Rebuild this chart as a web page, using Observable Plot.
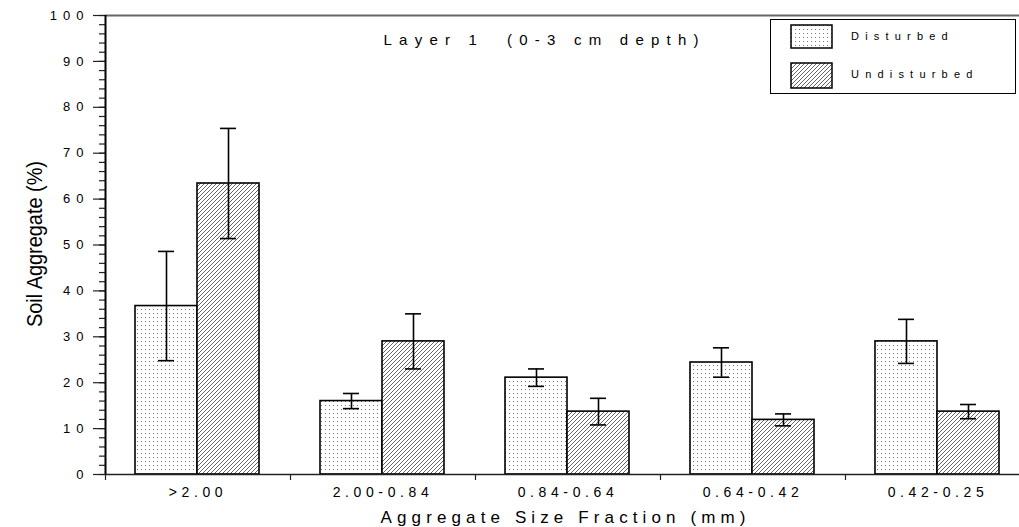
<!DOCTYPE html>
<html>
<head>
<meta charset="utf-8">
<script src="https://cdn.jsdelivr.net/npm/d3@7"></script>
<script src="https://cdn.jsdelivr.net/npm/@observablehq/plot@0.6"></script>
<style>
  html, body { margin: 0; padding: 0; background: #fff; overflow: hidden; }
  #wrap { position: relative; width: 1019px; height: 527px; overflow: hidden; }
  #chart svg { max-width: none !important; width: 1030px !important; height: 527px !important; font-family: "Liberation Sans", Arial, sans-serif; }
  #legend { position: absolute; left: 770px; top: 19px; width: 246px; height: 75px; border: 1.3px solid #000; background: #fff; box-sizing: border-box; font-family: "Liberation Sans", Arial, sans-serif; font-size: 11px; letter-spacing: 6.2px; }
  #legend .item { position: absolute; left: 19px; height: 26px; }
  #legend .item svg { position: absolute; left: 0; top: 0; }
  #legend .item span { position: absolute; left: 61px; top: 6px; white-space: nowrap; }
</style>
</head>
<body>
<div id="wrap">
  <div id="chart"></div>
  <div id="legend"></div>
</div>
<script>
// ---- data ----
const categories = [">2.00", "2.00-0.84", "0.84-0.64", "0.64-0.42", "0.42-0.25"];
const series = ["Disturbed", "Undisturbed"];
const disturbed = [36.7, 16.0, 21.1, 24.4, 29.0];
const disturbedErr = [11.9, 1.65, 1.9, 3.2, 4.8];
const undisturbed = [63.4, 29.0, 13.7, 11.9, 13.7];
const undisturbedErr = [12.0, 6.0, 2.9, 1.3, 1.55];
const yMajorTicks = [0, 10, 20, 30, 40, 50, 60, 70, 80, 90, 100];
const yMinorTicks = d3.range(0, 101, 2);
const title = "Layer 1\u00a0\u00a0(0-3 cm depth)";
const xTitle = "Aggregate Size Fraction (mm)";
const yTitle = "Soil Aggregate (%)";

const dData = categories.map((c, i) => ({cat: c, v: disturbed[i], lo: disturbed[i] - disturbedErr[i], hi: disturbed[i] + disturbedErr[i]}));
const uData = categories.map((c, i) => ({cat: c, v: undisturbed[i], lo: undisturbed[i] - undisturbedErr[i], hi: undisturbed[i] + undisturbedErr[i]}));

const chart = Plot.plot({
  width: 1030,
  height: 527,
  marginLeft: 105,
  marginRight: 0,
  marginTop: 15,
  marginBottom: 53,
  style: {fontFamily: "Liberation Sans, Arial, sans-serif", overflow: "visible", maxWidth: "none"},
  x: {domain: categories, padding: 0, label: null},
  y: {domain: [0, 100], label: null},
  marks: [
    Plot.ruleY([100], {stroke: "#666", strokeWidth: 2}),
    Plot.rectY(dData, {x: "cat", y: "v", fill: "url(#dotsPat)", stroke: "#000", strokeWidth: 1.6, insetLeft: 30, insetRight: 93}),
    Plot.rectY(uData, {x: "cat", y: "v", fill: "url(#hatchPat)", stroke: "#000", strokeWidth: 1.6, insetLeft: 92, insetRight: 31}),
    Plot.ruleX(dData, {x: "cat", y1: "lo", y2: "hi", stroke: "#000", strokeWidth: 1.6, dx: -31.5}),
    Plot.tickY(dData, {x: "cat", y: "lo", stroke: "#000", strokeWidth: 1.6, insetLeft: 53, insetRight: 116}),
    Plot.tickY(dData, {x: "cat", y: "hi", stroke: "#000", strokeWidth: 1.6, insetLeft: 53, insetRight: 116}),
    Plot.ruleX(uData, {x: "cat", y1: "lo", y2: "hi", stroke: "#000", strokeWidth: 1.6, dx: 30.5}),
    Plot.tickY(uData, {x: "cat", y: "lo", stroke: "#000", strokeWidth: 1.6, insetLeft: 115, insetRight: 54}),
    Plot.tickY(uData, {x: "cat", y: "hi", stroke: "#000", strokeWidth: 1.6, insetLeft: 115, insetRight: 54}),
    Plot.ruleY([0], {stroke: "#222", strokeWidth: 1.5}),
    Plot.axisY(yMinorTicks, {tickSize: 6, text: null, stroke: "#222", strokeWidth: 1.2}),
    Plot.axisY(yMajorTicks, {tickSize: 12, tickPadding: 4, stroke: "#222", strokeWidth: 1.2, fontSize: 13, fill: "#000", label: null}),
    Plot.ruleX([categories[0]], {dx: -92.5, stroke: "#000", strokeWidth: 2}),
    Plot.axisX({tickSize: 6, text: null, dx: -92.5, stroke: "#222", strokeWidth: 1.2, label: null}),
    Plot.axisX({tickSize: 0, tickPadding: 13, fontSize: 14, fill: "#000", label: null}),
    Plot.text([xTitle], {frameAnchor: "bottom", lineAnchor: "middle", dy: 43, dx: -5, fontSize: 17, fill: "#000"}),
    Plot.text([title], {frameAnchor: "top", lineAnchor: "middle", dy: 25, dx: -27, fontSize: 15, fill: "#000"}),
    Plot.text([yTitle], {frameAnchor: "left", textAnchor: "middle", lineAnchor: "middle", rotate: -90, dx: -71, dy: -1, fontSize: 22, fill: "#000"})
  ]
});

// patterns
const svg = d3.select(chart);
const defs = svg.insert("defs", ":first-child");
const dots = defs.append("pattern").attr("id", "dotsPat").attr("patternUnits", "userSpaceOnUse").attr("width", 4).attr("height", 4);
dots.append("rect").attr("width", 4).attr("height", 4).attr("fill", "#fff");
dots.append("rect").attr("x", 1).attr("y", 1).attr("width", 1).attr("height", 1).attr("fill", "#777");
const hatch = defs.append("pattern").attr("id", "hatchPat").attr("patternUnits", "userSpaceOnUse").attr("width", 4).attr("height", 4);
hatch.append("rect").attr("width", 4).attr("height", 4).attr("fill", "#fff");
hatch.append("path").attr("d", "M-1,1 L1,-1 M0,4 L4,0 M3,5 L5,3").attr("stroke", "#333").attr("stroke-width", 0.75);

// letter spacing / text length tweaks
svg.selectAll("text").each(function() {
  const t = this.textContent;
  const el = d3.select(this);
  if (t === xTitle) el.attr("textLength", 365).attr("lengthAdjust", "spacing");
  else if (t === title) el.attr("textLength", 315).attr("lengthAdjust", "spacing");
  else if (t === yTitle) el.attr("textLength", 166).attr("lengthAdjust", "spacingAndGlyphs");
  else if (categories.includes(t)) el.attr("letter-spacing", "4.6px");
  else if (/^\d+$/.test(t)) el.attr("letter-spacing", "6px");
});

document.getElementById("chart").appendChild(chart);

// legend
const legend = d3.select("#legend");
series.forEach((s, i) => {
  const item = legend.append("div").attr("class", "item").style("top", (i === 0 ? 4 : 42) + "px");
  const sv = item.append("svg").attr("width", 44).attr("height", 28);
  sv.append("rect").attr("x", 1).attr("y", 1).attr("width", 41).attr("height", i === 0 ? 23 : 25)
    .attr("fill", i === 0 ? "url(#dotsPat)" : "url(#hatchPat)").attr("stroke", "#000").attr("stroke-width", 1.5);
  item.append("span").text(s);
});
</script>
</body>
</html>
